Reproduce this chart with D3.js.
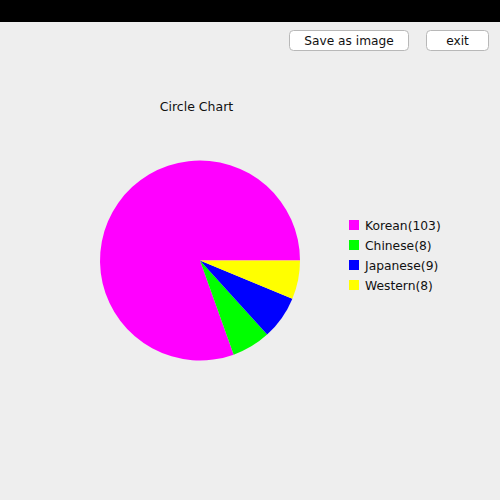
<!DOCTYPE html>
<html><head><meta charset="utf-8">
<script src="https://cdn.jsdelivr.net/npm/d3@7"></script>
<style>html,body{margin:0;padding:0;background:#eeeeee;overflow:hidden}</style>
</head><body>
<script>
const categories = ["Korean", "Chinese", "Japanese", "Western"];
const values = [103, 8, 9, 8];
const colors = ["#ff00ff", "#00ff00", "#0000ff", "#ffff00"];
const title = "Circle Chart";
const buttons = ["Save as image", "exit"];

const W = 500, H = 500;
const svg = d3.select("body").append("svg").attr("width", W).attr("height", H);
svg.append("rect").attr("width", W).attr("height", H).attr("fill", "#eeeeee");
svg.append("rect").attr("width", W).attr("height", 22).attr("fill", "#000");

const font = "'DejaVu Sans', sans-serif";
// buttons
const btnBoxes = [[289, 30, 119, 20], [426, 30, 62, 20]];
buttons.forEach((b, i) => {
  const [x, y, w, h] = btnBoxes[i];
  svg.append("rect").attr("x", x + 0.5).attr("y", y + 0.5).attr("width", w).attr("height", h)
    .attr("rx", 4).attr("fill", "#ffffff").attr("stroke", "#b8b8b8");
  svg.append("text").attr("x", x + w / 2 + 0.5).attr("y", y + 15).attr("text-anchor", "middle")
    .attr("font-family", font).attr("font-size", 12.2).attr("fill", "#111").text(b);
});

svg.append("text").attr("x", 196.5).attr("y", 111).attr("text-anchor", "middle")
  .attr("font-family", font).attr("font-size", 12.5).attr("fill", "#111").text(title);

const cx = 200, cy = 260.5, r = 100;
const pie = d3.pie().value(d => d).sort(null).startAngle(Math.PI / 2).endAngle(Math.PI / 2 - 2 * Math.PI);
const arc = d3.arc().innerRadius(0).outerRadius(r);
const g = svg.append("g").attr("transform", `translate(${cx},${cy})`);
g.selectAll("path").data(pie(values)).join("path")
  .attr("d", arc).attr("fill", (d, i) => colors[i]);

const leg = svg.append("g");
categories.forEach((c, i) => {
  const y = 220 + i * 20;
  leg.append("rect").attr("x", 349).attr("y", y).attr("width", 10).attr("height", 10).attr("fill", colors[i]);
  leg.append("text").attr("x", 365).attr("y", y + 10).attr("font-family", font).attr("font-size", 12.3)
    .attr("fill", "#111").text(`${c}(${values[i]})`);
});
</script>
</body></html>
